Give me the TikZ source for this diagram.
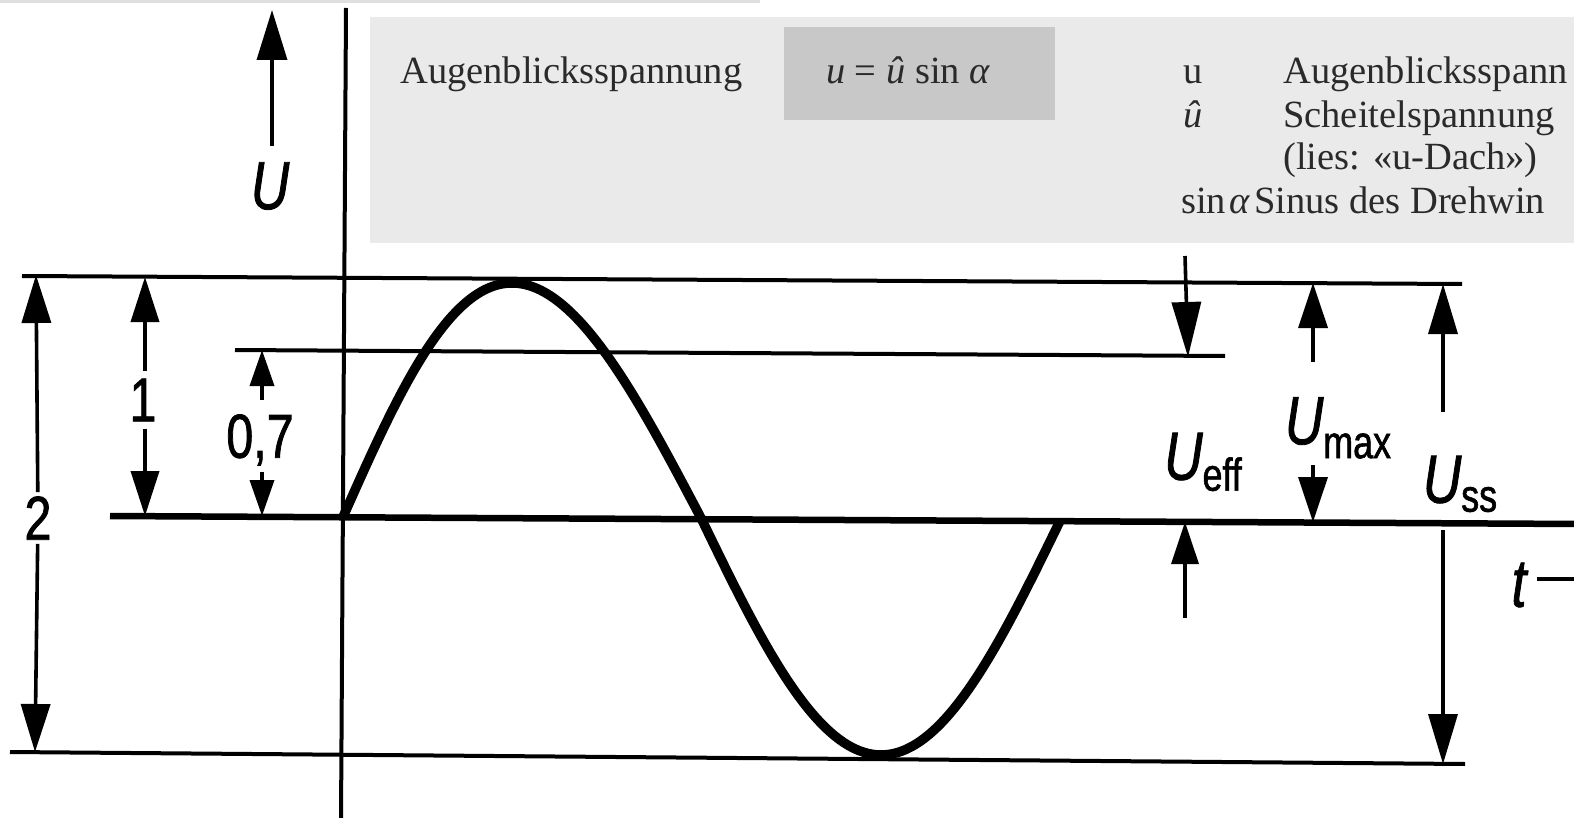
\documentclass[tikz,border=0pt]{standalone}
\usepackage{fontspec}
\setmainfont{Liberation Serif}
\newfontfamily\din[FakeStretch=0.78,FakeBold=1.2]{Liberation Sans}
\usetikzlibrary{arrows.meta}
\definecolor{panel}{HTML}{EAEAEA}
\definecolor{fboxc}{HTML}{C8C8C8}
\definecolor{ink}{HTML}{2A2A2A}
\begin{document}
\begin{tikzpicture}[x=1pt,y=-1pt,
  hline/.style={line width=4pt},
  dimline/.style={line width=3.6pt,-{Triangle[length=48pt,width=29pt]}},
  smalltip/.style={-{Triangle[length=36pt,width=24pt]}},
  num/.style={font=\din\fontsize{62}{62}\selectfont, inner sep=5pt},
  sym/.style={font=\din\fontsize{68}{68}\selectfont, inner sep=0pt},
  ptext/.style={font=\fontsize{38.5}{40}\selectfont, text=ink, anchor=base west, inner sep=0pt}
]
\useasboundingbox (0,0) rectangle (1574,818);
\clip (0,0) rectangle (1574,818);
\fill[white] (0,0) rectangle (1574,818);
\fill[gray!25] (0,0) rectangle (760,3);

% text panel
\fill[panel] (370,17) rectangle (1580,243);
\fill[fboxc] (784,27) rectangle (1055,120);
\node[ptext] (tA) at (400,84) {Augenblicksspannung};
\node[ptext, anchor=base] (tF) at (908,84) {\itshape u\/ \upshape= \itshape û\/ \upshape sin \itshape α};
\node[ptext] (tu) at (1183,84) {u};
\node[ptext] (tuA) at (1283,84) {Augenblicksspann};
\node[ptext] (tuh) at (1183,128) {\itshape û};
\node[ptext] (tS) at (1283,128) {Scheitelspannung};
\node[ptext] (tL) at (1283,170) {(lies: «u-Dach»)};
\node[ptext] (tsin) at (1181,214) {sin\kern3pt\itshape α};
\node[ptext] (tSin) at (1254,214) {Sinus des Drehwin};

% axes and reference lines
\coordinate (axT) at (346,8);
\coordinate (axB) at (341,820);
\draw[line width=4pt] (axT) -- (axB);

\coordinate (topL) at (22,276);
\coordinate (topR) at (1462,284);
\draw[hline] (topL) -- (topR);
\coordinate (effL) at (235,350);
\coordinate (effR) at (1225,356);
\draw[hline] (effL) -- (effR);
\coordinate (zeroL) at (110,516);
\coordinate (zeroR) at (1580,524);
\draw[line width=6.5pt] (zeroL) -- (zeroR);
\coordinate (botL) at (10,752);
\coordinate (botR) at (1465,764);
\draw[hline] (botL) -- (botR);

% sine curve
\draw[line width=9.5pt, line join=round]
  plot[domain=0:360, samples=140, smooth]
  ({343 + 1.99167*\x - 10*max(sin(\x),0)}, {517 + 0.01095*\x - 235*sin(\x)});

% U axis arrow
\node[sym] (lU) at (270,186) {\itshape U};
\coordinate (uTip) at (272,10);
\coordinate (uS) at (272,146);
\draw[dimline,-{Triangle[length=50pt,width=30pt]}] (uS) -- (uTip);

% left dimensions
\node[num, inner sep=4pt] (l2) at (38,518) {2};
\coordinate (d2T) at (36,275);
\coordinate (d2B) at (35,752);
\draw[dimline] (l2) -- (d2T);
\draw[dimline] (l2) -- (d2B);

\node[num, inner sep=7pt] (l1) at (143,400) {1};
\coordinate (d1T) at (145,277);
\coordinate (d1B) at (145,516);
\draw[dimline,-{Triangle[length=45pt,width=28pt]}] (l1.north -| d1T) -- (d1T);
\draw[dimline,-{Triangle[length=45pt,width=28pt]}] (l1.south -| d1B) -- (d1B);

\node[num, inner sep=0pt] (l07) at (260,440) {0,7};
\coordinate (d7T) at (262,350);
\coordinate (d7B) at (262,516);
\coordinate (d7a) at (262,400);
\coordinate (d7b) at (262,472);
\draw[dimline,smalltip] (d7a) -- (d7T);
\draw[dimline,smalltip] (d7b) -- (d7B);

% U_eff
\node[sym] (lEff) at (1203,462) {\itshape U\upshape\fontsize{46}{46}\selectfont\raisebox{-11pt}{eff}};
\coordinate (e1S) at (1185,256);
\coordinate (e1T) at (1188,357);
\coordinate (e2S) at (1185,618);
\coordinate (e2T) at (1185,522);
\draw[dimline,-{Triangle[length=55pt,width=29pt]}] (e1S) -- (e1T);
\draw[dimline,-{Triangle[length=42pt,width=27pt]}] (e2S) -- (e2T);

% U_max
\node[sym] (lMax) at (1338,428) {\itshape U\upshape\fontsize{46}{46}\selectfont\raisebox{-14pt}{max}};
\coordinate (m1S) at (1313,362);
\coordinate (m1T) at (1313,283);
\coordinate (m2S) at (1313,465);
\coordinate (m2T) at (1313,522);
\draw[dimline,-{Triangle[length=45pt,width=29pt]}] (m1S) -- (m1T);
\draw[dimline,-{Triangle[length=45pt,width=29pt]}] (m2S) -- (m2T);

% U_ss
\node[sym] (lSS) at (1460,484) {\itshape U\upshape\fontsize{46}{46}\selectfont\raisebox{-9pt}{ss}};
\coordinate (s1S) at (1443,412);
\coordinate (s1T) at (1443,284);
\coordinate (s2S) at (1443,530);
\coordinate (s2T) at (1443,764);
\draw[dimline,-{Triangle[length=50pt,width=29pt]}] (s1S) -- (s1T);
\draw[dimline,-{Triangle[length=50pt,width=29pt]}] (s2S) -- (s2T);

% t arrow
\node[sym] (lt) at (1519,585) {\itshape t};
\coordinate (tEnd) at (1600,579);
\draw[line width=3.6pt] ([xshift=10pt]lt.east |- tEnd) -- (tEnd);
\end{tikzpicture}
\end{document}
